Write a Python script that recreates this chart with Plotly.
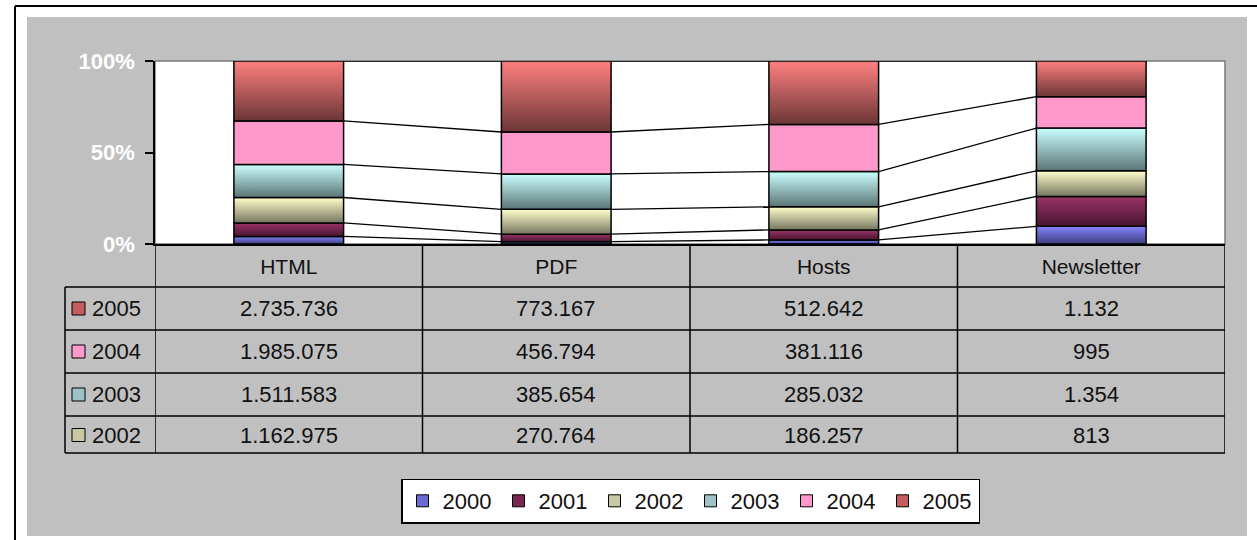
import plotly.graph_objects as go

W, H = 1257, 540

# ---------------- data ----------------
categories = ["HTML", "PDF", "Hosts", "Newsletter"]
years = ["2000", "2001", "2002", "2003", "2004", "2005"]
v2000 = [345000, 25000, 33000, 560]
v2001 = [615000, 82000, 81000, 950]
v2002 = [1162975, 270764, 186257, 813]
v2003 = [1511583, 385654, 285032, 1354]
v2004 = [1985075, 456794, 381116, 995]
v2005 = [2735736, 773167, 512642, 1132]
table_years = ["2005", "2004", "2003", "2002"]
y_tick_vals = [0, 0.5, 1]
y_tick_text = ["0%", "50%", "100%"]

series = [v2000, v2001, v2002, v2003, v2004, v2005]
by_year = dict(zip(years, series))

# ---------------- styles ----------------
top_colors = ["#8484FF", "#9B3468", "#FFFFCC", "#CCFFFF", "#FF99CC", "#FF8080"]
bottom_colors = ["#3E3E7C", "#481530", "#767660", "#5A7474", "#FF99CC", "#6C3636"]
key_colors = ["#6A6AD0", "#7A2652", "#C8C8A4", "#9CC4C4", "#FF99CC", "#C45E5E"]
BW = 0.41
FONT = "Arial, Liberation Sans, sans-serif"


def PX(x):
    return x / W


def PY(y):
    return 1 - y / H


totals = [sum(s[i] for s in series) for i in range(len(categories))]
cum = []
run = [0.0] * len(categories)
for s in series:
    lower = run[:]
    run = [run[i] + s[i] / totals[i] for i in range(len(categories))]
    cum.append((lower, run[:]))

fig = go.Figure()

# stacked 100% columns with vertical gradients
for k, year in enumerate(years):
    lower, upper = cum[k]
    for i in range(len(categories)):
        x0, x1 = i - BW / 2, i + BW / 2
        fig.add_trace(go.Scatter(
            x=[x0, x1, x1, x0, x0], y=[lower[i], lower[i], upper[i], upper[i], lower[i]],
            mode="lines", fill="toself",
            fillgradient=dict(type="vertical",
                              colorscale=[[0, bottom_colors[k]], [1, top_colors[k]]]),
            line=dict(color="black", width=1.5),
            legendgroup=year, showlegend=False, hoverinfo="skip"))

# series lines connecting stacks
for k, year in enumerate(years):
    lower, upper = cum[k]
    xs, ys = [], []
    for i in range(len(categories) - 1):
        xs += [i + BW / 2, i + 1 - BW / 2, None]
        ys += [upper[i], upper[i + 1], None]
    fig.add_trace(go.Scatter(x=xs, y=ys, mode="lines",
                             line=dict(color="black", width=1.3),
                             showlegend=False, hoverinfo="skip"))

# legend entries
for k, year in enumerate(years):
    fig.add_trace(go.Bar(x=[None], y=[None], name=year, legendgroup=year,
                         marker=dict(color=key_colors[k], line=dict(color="black", width=1))))

shapes = []
# outer frame
shapes.append(dict(type="line", xref="paper", yref="paper", x0=PX(15), x1=PX(1257),
                   y0=PY(6), y1=PY(6), line=dict(color="black", width=2)))
shapes.append(dict(type="line", xref="paper", yref="paper", x0=PX(15), x1=PX(15),
                   y0=PY(6), y1=PY(540), line=dict(color="black", width=2)))
# grey chart area
shapes.append(dict(type="rect", xref="paper", yref="paper", x0=PX(27), x1=PX(1247),
                   y0=PY(536), y1=PY(17), fillcolor="#C0C0C0", line=dict(width=0),
                   layer="below"))
# white plot area
shapes.append(dict(type="rect", xref="paper", yref="paper", x0=PX(155), x1=PX(1225),
                   y0=PY(244), y1=PY(61), fillcolor="white",
                   line=dict(color="#7A7A7A", width=1.5), layer="below"))

# data table grid
tl = dict(color="black", width=1.5)
row_lines = [287, 330, 373, 416, 453]
for yy in row_lines:
    shapes.append(dict(type="line", xref="paper", yref="paper", x0=PX(65), x1=PX(1225),
                       y0=PY(yy), y1=PY(yy), line=tl))
for xb in [-0.5, 0.5, 1.5, 2.5, 3.5]:
    shapes.append(dict(type="line", xref="x", yref="paper", x0=xb, x1=xb,
                       y0=PY(244), y1=PY(453), line=tl))
shapes.append(dict(type="line", xref="paper", yref="paper", x0=PX(65), x1=PX(65),
                   y0=PY(287), y1=PY(453), line=tl))

annotations = []
row_centers = [308.5, 351.5, 394.5, 435]
for r, ty in enumerate(table_years):
    k = years.index(ty)
    yc = row_centers[r]
    shapes.append(dict(type="rect", xref="paper", yref="paper", x0=PX(72), x1=PX(85),
                       y0=PY(yc + 6.5), y1=PY(yc - 6.5), fillcolor=key_colors[k],
                       line=dict(color="black", width=1)))
    annotations.append(dict(x=PX(90), y=PY(yc), xref="paper", yref="paper", text=ty,
                            showarrow=False, xanchor="left", yanchor="middle",
                            font=dict(family=FONT, size=22, color="#111")))
    for i, v in enumerate(by_year[ty]):
        annotations.append(dict(x=i, y=PY(yc), xref="x", yref="paper",
                                text=f"{v:,}".replace(",", "."), showarrow=False,
                                xanchor="center", yanchor="middle",
                                font=dict(family=FONT, size=22, color="#111")))

fig.update_layout(
    width=W, height=H, autosize=False,
    margin=dict(l=0, r=0, t=0, b=0, pad=0, autoexpand=False),
    paper_bgcolor="white", plot_bgcolor="rgba(0,0,0,0)",
    shapes=shapes, annotations=annotations,
    showlegend=True,
    legend=dict(orientation="h", x=PX(690.5), xanchor="center", y=PY(501), yanchor="middle",
                bgcolor="white", bordercolor="black", borderwidth=1.5,
                font=dict(family=FONT, size=22, color="#111"), traceorder="normal",
                entrywidth=51, entrywidthmode="pixels"),
    xaxis=dict(domain=[PX(155), PX(1225)], range=[-0.5, 3.5], tickvals=[0, 1, 2, 3],
               ticktext=categories, showgrid=False, zeroline=False, showline=True,
               linecolor="black", linewidth=1.5, ticks="", ticklabelstandoff=3,
               tickfont=dict(family=FONT, size=21, color="#111"), fixedrange=True),
    yaxis=dict(domain=[PY(244), PY(61)], range=[0, 1], tickvals=y_tick_vals,
               ticktext=y_tick_text, showgrid=False, zeroline=False, showline=True,
               linecolor="black", linewidth=1.5, ticks="outside", ticklen=8, tickwidth=1.5,
               tickcolor="black", ticklabelstandoff=6,
               tickfont=dict(family=FONT, size=22, color="white", weight="bold"),
               fixedrange=True),
)

fig.write_html("out.html", config=dict(displayModeBar=False, responsive=False),
               post_script="document.body.style.margin='0';")
